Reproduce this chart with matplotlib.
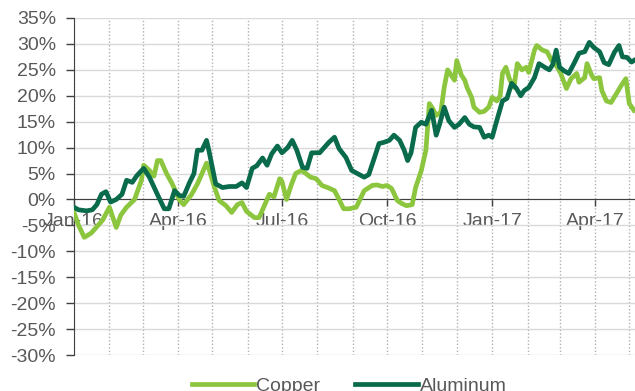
import numpy as np
import pandas as pd
import matplotlib
matplotlib.use("Agg")
import matplotlib.pyplot as plt
import matplotlib.dates as mdates
from matplotlib.ticker import FuncFormatter, MultipleLocator

# days since 1 Jan 2016 and % change since start of 2016
copper_days = [0, 4, 9, 15, 19, 25, 31, 37, 41, 46, 53, 59, 61, 66, 70, 73, 76, 81, 86, 92,
               96, 103, 108, 112, 116, 118, 123, 127, 133, 138, 143, 147, 151, 158, 162, 166, 171, 175, 180, 182,
               186, 190, 194, 199, 203, 207, 212, 217, 223, 228, 232, 236, 241, 247, 254, 261, 265, 270, 274, 278,
               283, 287, 291, 296, 299, 304, 308, 311, 314, 317, 321, 324, 327, 330, 333, 335, 339, 342, 344, 348,
               350, 355, 359, 363, 366, 370, 373, 375, 378, 381, 385, 388, 392, 396, 398, 403, 405, 410, 414, 418,
               422, 426, 431, 435, 440, 442, 447, 449, 453, 455, 460, 462, 466, 470, 475, 479, 483, 486, 490]
copper = [-2.5, -5.0, -7.3, -6.5, -5.5, -4.0, -1.5, -5.4, -3.0, -1.5, 0.0, 3.7, 6.6, 5.6, 4.5, 7.5, 7.5, 5.0, 3.0, 0.0,
          -1.0, 1.0, 3.0, 5.0, 7.0, 6.0, 2.3, -0.2, -1.2, -2.5, -1.0, -0.6, -2.3, -3.5, -3.5, -1.5, 1.0, 0.5, 4.0, 3.5,
          0.0, 2.7, 5.0, 5.6, 5.0, 4.3, 4.0, 2.7, 2.2, 1.7, 0.0, -1.8, -1.8, -1.5, 1.7, 2.7, 2.8, 2.5, 2.7, 2.1,
          -0.2, -0.8, -1.2, -1.0, 2.3, 5.6, 9.5, 18.5, 17.5, 16.2, 16.8, 21.6, 25.0, 24.0, 23.0, 26.8, 24.0, 23.0, 21.6, 19.7,
          17.8, 16.8, 17.0, 17.8, 19.7, 19.0, 20.0, 24.3, 25.5, 23.3, 21.6, 26.2, 25.0, 25.5, 24.5, 28.8, 29.7, 28.8, 28.5, 26.8,
          25.9, 24.3, 21.4, 23.3, 24.3, 22.6, 23.5, 26.2, 24.0, 23.3, 23.5, 21.0, 19.0, 18.7, 20.5, 22.0, 23.3, 18.5, 17.2]

aluminum_days = [0, 4, 11, 16, 20, 24, 28, 32, 37, 42, 46, 51, 55, 61, 66, 70, 74, 79, 83, 88,
                 92, 96, 101, 105, 108, 112, 116, 118, 124, 130, 136, 142, 147, 151, 156, 160, 165, 169, 173, 178,
                 182, 187, 191, 195, 200, 204, 208, 215, 219, 223, 228, 232, 238, 243, 248, 254, 258, 263, 267, 271,
                 276, 280, 285, 289, 292, 295, 299, 304, 308, 313, 317, 320, 324, 328, 333, 337, 342, 346, 350, 355,
                 359, 363, 366, 370, 375, 379, 383, 387, 391, 394, 398, 403, 407, 412, 416, 419, 422, 425, 429, 433,
                 438, 442, 447, 451, 455, 460, 464, 468, 473, 477, 480, 484, 488, 490]
aluminum = [-1.5, -2.0, -2.2, -2.0, -1.0, 1.0, 1.5, -0.5, 0.0, 1.0, 3.7, 3.3, 4.6, 6.0, 4.3, 2.4, 0.5, -1.8, -1.8, 1.7,
            0.8, 0.6, 3.2, 5.0, 9.5, 9.5, 11.4, 9.5, 3.0, 2.3, 2.5, 2.5, 3.2, 2.3, 6.0, 6.5, 8.0, 6.6, 8.8, 10.3,
            9.0, 10.0, 11.4, 9.5, 6.2, 6.0, 9.0, 9.0, 10.0, 11.0, 12.0, 9.8, 8.1, 5.6, 5.0, 4.3, 4.8, 8.1, 10.8, 11.0,
            11.4, 12.4, 11.4, 9.5, 7.5, 9.0, 13.9, 14.9, 14.5, 17.2, 12.4, 14.5, 17.8, 15.2, 13.9, 14.5, 15.8, 14.5, 14.0, 13.9,
            12.0, 12.4, 12.0, 15.2, 19.0, 19.5, 22.4, 21.5, 20.0, 21.0, 21.6, 23.5, 26.2, 25.5, 25.0, 26.0, 28.8, 25.5, 24.8, 24.3,
            26.4, 28.2, 28.5, 30.3, 29.3, 28.5, 26.4, 26.0, 28.4, 29.7, 27.5, 27.4, 26.5, 26.8]

start = pd.Timestamp("2016-01-01")
copper_dates = start + pd.to_timedelta(copper_days, unit="D")
aluminum_dates = start + pd.to_timedelta(aluminum_days, unit="D")

COPPER = "#8cc63e"
ALUMINUM = "#0a6b4c"
TXT = "#595959"
FS = 14

plt.rcParams["font.family"] = ["Liberation Sans", "DejaVu Sans"]

fig = plt.figure(figsize=(6.35, 3.91), dpi=100)
ax = fig.add_axes([74 / 635, 1 - 355 / 391, 1 - 74 / 635, (355 - 18) / 391])

ax.plot(copper_dates, copper, color=COPPER, lw=3.4, label="Copper", solid_joinstyle="round", zorder=3)
ax.plot(aluminum_dates, aluminum, color=ALUMINUM, lw=3.4, label="Aluminum", solid_joinstyle="round", zorder=4)

ax.set_ylim(-30, 35)
ax.set_xlim(start, start + pd.Timedelta(days=491))

# y axis
ax.yaxis.set_major_locator(MultipleLocator(5))
ax.yaxis.set_major_formatter(FuncFormatter(lambda v, p: f"{v:.0f}%"))
ax.tick_params(axis="y", colors="#404040", labelcolor=TXT, labelsize=FS, length=6, width=1, pad=7)

# x axis sits on the zero line, quarterly labels, monthly dotted grid
ax.spines["bottom"].set_position(("data", 0))
for s in ["top", "right"]:
    ax.spines[s].set_visible(False)
ax.spines["bottom"].set_color("#404040")
ax.spines["left"].set_color("#404040")
ax.xaxis.set_major_locator(mdates.MonthLocator(bymonth=[1, 4, 7, 10]))
ax.xaxis.set_major_formatter(mdates.DateFormatter("%b-%y"))
ax.xaxis.set_minor_locator(mdates.MonthLocator())
ax.tick_params(axis="x", which="major", colors="#404040", labelcolor=TXT, labelsize=FS,
               length=5, width=1, pad=5, direction="out")
ax.tick_params(axis="x", which="minor", length=0)

ax.grid(axis="y", color="#d9d9d9", lw=1)
ax.grid(axis="x", which="both", color="#b0b0b0", lw=1, linestyle=(0, (1, 1.5)))
ax.set_axisbelow(True)

fig.legend(loc="center", bbox_to_anchor=(0.55, 0.012), ncol=2, frameon=False,
           fontsize=FS, handlelength=3.2, handletextpad=0.1, columnspacing=1.8,
           labelcolor=TXT)

fig.savefig("out.png", dpi=100)
